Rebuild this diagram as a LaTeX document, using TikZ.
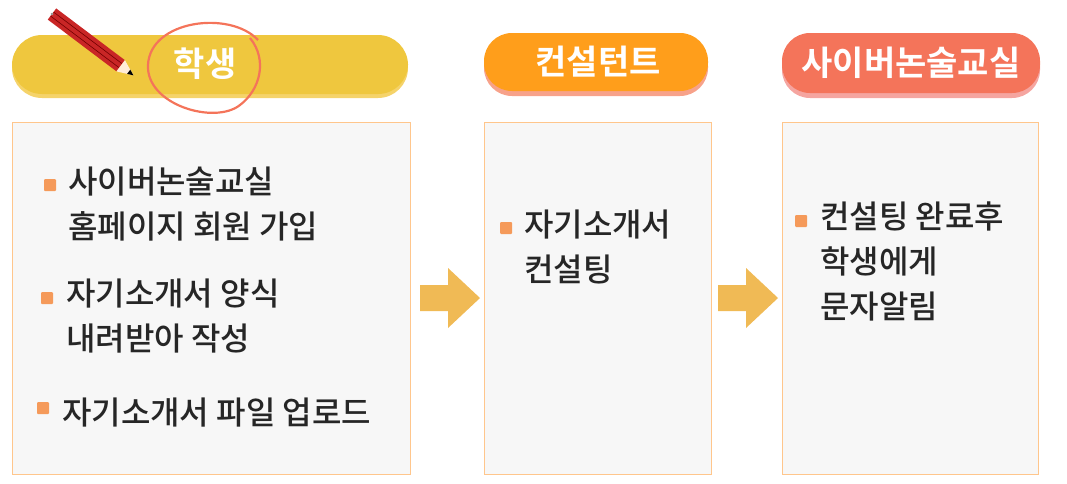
\documentclass[tikz,border=0pt]{standalone}
\usepackage{fontspec}
\setmainfont{Noto Sans CJK KR Medium}
\newfontfamily\hb{Noto Sans CJK KR Bold}
\definecolor{gold}{HTML}{EFC73E}
\definecolor{goldsh}{HTML}{F5D36A}
\definecolor{org}{HTML}{FF9E1B}
\definecolor{orgsh}{HTML}{F7A28A}
\definecolor{sal}{HTML}{F4745A}
\definecolor{salsh}{HTML}{F5A5A0}
\definecolor{arrc}{HTML}{F0BA55}
\definecolor{bulc}{HTML}{F59A5A}
\tikzset{
 card/.style={draw=orange!45, fill=black!3, line width=0.8pt},
 bul/.style={fill=bulc, minimum size=12pt, inner sep=0pt, rounded corners=1pt},
 txt/.style={anchor=west, align=left, font=\fontsize{32}{45}\selectfont, inner sep=0pt, text=black!85},
 hd/.style={text=white, font=\hb\fontsize{34}{38}\selectfont},
 arr/.style={fill=arrc}
}
\begin{document}
\begin{tikzpicture}[x=1pt,y=-1pt]
\useasboundingbox (0,0) rectangle (1067,483);
% headers
\fill[goldsh, rounded corners=30pt] (12,38) rectangle (408,98);
\fill[gold, rounded corners=30pt] (12,35) rectangle (408,94);
\node[hd] (h1) at (205,64) {학생};
\draw[sal, line width=2.2pt] (258,40) .. controls (230,10) and (150,20) .. (148,65) .. controls (146,105) and (215,125) .. (240,105) .. controls (260,90) and (268,60) .. (250,38);
% pencil
\begin{scope}[shift={(52,14)}, rotate=-37]
\fill[red!75!black!85] (0,-7) rectangle (86,7);
\draw[red!45!black, line width=0.6pt] (0,-2.5) -- (86,-2.5) (0,2.5) -- (86,2.5);
\fill[orange!15] (86,-7) -- (102,0) -- (86,7) -- cycle;
\fill[black] (96,-2.6) -- (102,0) -- (96,2.6) -- cycle;
\fill[black!40] (0,0) circle (1.5);
\end{scope}
\fill[orgsh, rounded corners=28pt] (484,38) rectangle (708,96);
\fill[org, rounded corners=28pt] (484,33) rectangle (708,91);
\node[hd] (h2) at (598,62) {컨설턴트};
\fill[salsh, rounded corners=28pt] (782,38) rectangle (1040,98);
\fill[sal, rounded corners=28pt] (782,33) rectangle (1040,93);
\node[hd] (h3) at (911,63) {사이버논술교실};
% cards
\draw[card] (12,122) rectangle (410,474);
\draw[card] (484,122) rectangle (711,474);
\draw[card] (782,122) rectangle (1038,474);
% arrows
\fill[arr] (420,285) -- (448,285) -- (448,268) -- (480,298) -- (448,328) -- (448,311) -- (420,311) -- cycle;
\fill[arr] (718,285) -- (746,285) -- (746,268) -- (778,298) -- (746,328) -- (746,311) -- (718,311) -- cycle;
% bullets & text
\node[bul] (b1) at (50,185) {};
\node[txt, anchor=north west] (t1) at (68,167) {사이버논술교실\\홈페이지 회원 가입};
\node[bul] (b2) at (47,298) {};
\node[txt, anchor=north west] (t2) at (66,279) {자기소개서 양식\\내려받아 작성};
\node[bul] (b3) at (43,408) {};
\node[txt] (t3) at (62,413) {자기소개서 파일 업로드};
\node[bul] (b4) at (506,228) {};
\node[txt, anchor=north west] (t4) at (524,210) {자기소개서\\컨설팅};
\node[bul] (b5) at (801,221) {};
\node[txt, anchor=north west] (t5) at (820,202) {컨설팅 완료후\\학생에게\\문자알림};
\end{tikzpicture}
\end{document}
